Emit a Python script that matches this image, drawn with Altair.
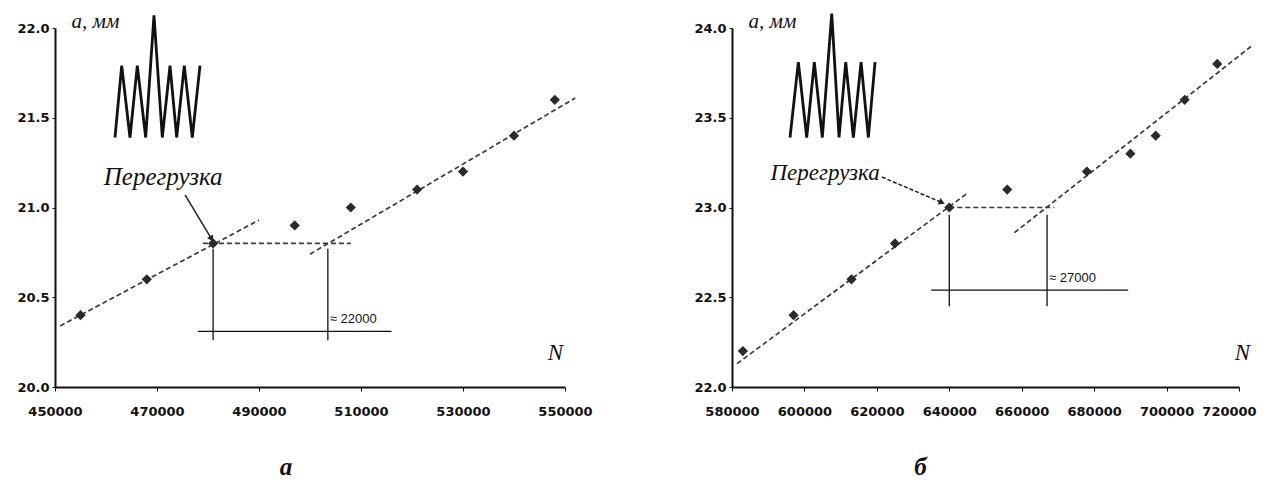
import altair as alt
import pandas as pd

# ---------------- panel "а" ----------------
a_pts_n = [455000, 468000, 481000, 497000, 508000, 521000, 530000, 540000, 548000]
a_pts_a = [20.4, 20.6, 20.8, 20.9, 21.0, 21.1, 21.2, 21.4, 21.6]
a_fit_n = [451000, 490000, 479000, 508000, 500000, 552000]
a_fit_a = [20.34, 20.93, 20.8, 20.8, 20.74, 21.61]
a_fit_seg = [0, 0, 1, 1, 2, 2]
a_dim_n = [481000, 481000, 503500, 503500, 478000, 516000]
a_dim_a = [20.77, 20.26, 20.77, 20.26, 20.31, 20.31]
a_dim_seg = [0, 0, 1, 1, 2, 2]
a_cyc_n = [461765, 463080, 464700, 466140, 467780, 469410, 471040, 472550, 473860, 475350, 476920, 478430]
a_cyc_a = [21.39, 21.79, 21.39, 21.79, 21.39, 22.07, 21.39, 21.79, 21.39, 21.79, 21.39, 21.79]
a_arrow_n = [475500, 480600]
a_arrow_a = [21.07, 20.83]
a_label_n, a_label_a = 471200, 21.17
a_delta_n, a_delta_a = 503500, 20.38
a_delta_text = "≈ 22000"
a_x_ticks = [450000, 470000, 490000, 510000, 530000, 550000]
a_y_ticks = [20.0, 20.5, 21.0, 21.5, 22.0]

# ---------------- panel "б" ----------------
b_pts_n = [583000, 597000, 613000, 625000, 640000, 656000, 678000, 690000, 697000, 705000, 714000]
b_pts_a = [22.2, 22.4, 22.6, 22.8, 23.0, 23.1, 23.2, 23.3, 23.4, 23.6, 23.8]
b_fit_n = [581400, 645000, 640000, 669000, 658000, 723500]
b_fit_a = [22.13, 23.08, 23.0, 23.0, 22.86, 23.90]
b_fit_seg = [0, 0, 1, 1, 2, 2]
b_dim_n = [640000, 640000, 667000, 667000, 635000, 689400]
b_dim_a = [22.96, 22.45, 22.96, 22.45, 22.54, 22.54]
b_dim_seg = [0, 0, 1, 1, 2, 2]
b_cyc_n = [596020, 598320, 600630, 602730, 604940, 607540, 609560, 611410, 613510, 615640, 617650, 619500]
b_cyc_a = [23.39, 23.81, 23.39, 23.81, 23.39, 24.08, 23.39, 23.81, 23.39, 23.81, 23.39, 23.81]
b_arrow_n = [621400, 637700]
b_arrow_a = [23.17, 23.03]
b_label_n, b_label_a = 605700, 23.19
b_delta_n, b_delta_a = 667000, 22.61
b_delta_text = "≈ 27000"
b_x_ticks = [580000, 600000, 620000, 640000, 660000, 680000, 700000, 720000]
b_y_ticks = [22.0, 22.5, 23.0, 23.5, 24.0]


def panel(pts_n, pts_a, fit_n, fit_a, fit_seg, dim_n, dim_a, dim_seg,
          cyc_n, cyc_a, arrow_n, arrow_a, arrow_angle, arrow_dash,
          label_n, label_a, label_size, delta_n, delta_a, delta_text,
          x_ticks, y_ticks, width, height, n_title_x, sub_title, sub_dx):
    xdom = [x_ticks[0], x_ticks[-1]]
    ydom = [y_ticks[0], y_ticks[-1]]
    xs = alt.Scale(domain=xdom, nice=False, zero=False)
    ys = alt.Scale(domain=ydom, nice=False, zero=False)

    last_tick = x_ticks[-1]
    x_axis = alt.Axis(values=x_ticks, format="d", grid=False, labelFlush=False,
                      labelFont="DejaVu Sans", labelFontWeight="bold", labelFontSize=13,
                      labelColor="#111", labelPadding=14, tickColor="#111", tickSize=4,
                      labelOffset={"condition": {"test": f"datum.value >= {last_tick} && {last_tick} > 600000",
                                                 "value": -10},
                                   "value": 0},
                      domainColor="#111", domainWidth=2,
                      title="N", titleFont="Liberation Serif", titleFontStyle="italic",
                      titleFontWeight="normal", titleFontSize=23, titleColor="#111",
                      titleX=n_title_x, titleY=-28, titleAlign="center",
                      titleBaseline="alphabetic")
    y_axis = alt.Axis(values=y_ticks, format=".1f", grid=False,
                      labelFont="DejaVu Sans", labelFontWeight="bold", labelFontSize=13,
                      labelColor="#111", labelPadding=3, tickColor="#111", tickSize=3,
                      domainColor="#111", domainWidth=2,
                      title="а, мм", titleFont="Liberation Serif", titleFontStyle="italic",
                      titleFontWeight="normal", titleFontSize=21, titleColor="#111",
                      titleAngle=0, titleX=16, titleY=-1, titleAlign="left",
                      titleBaseline="alphabetic", minExtent=47, maxExtent=47)

    pts = pd.DataFrame({"N": pts_n, "a": pts_a})
    fit = pd.DataFrame({"N": fit_n, "a": fit_a, "seg": fit_seg, "i": list(range(len(fit_n)))})
    dim = pd.DataFrame({"N": dim_n, "a": dim_a, "seg": dim_seg, "i": list(range(len(dim_n)))})
    cyc = pd.DataFrame({"N": cyc_n, "a": cyc_a, "i": list(range(len(cyc_n)))})
    arr = pd.DataFrame({"N": arrow_n, "a": arrow_a, "i": [0, 1]})
    head = arr.iloc[[1]]
    lab = pd.DataFrame({"N": [label_n], "a": [label_a], "t": ["Перегрузка"]})
    dlt = pd.DataFrame({"N": [delta_n], "a": [delta_a], "t": [delta_text]})

    base_x = alt.X("N:Q", scale=xs, axis=x_axis)
    base_y = alt.Y("a:Q", scale=ys, axis=y_axis)

    fit_l = alt.Chart(fit).mark_line(color="#3a3a3a", strokeWidth=1.7, strokeDash=[5, 3],
                                     clip=False).encode(
        x=base_x, y=base_y, detail="seg:N", order="i:Q")
    dim_l = alt.Chart(dim).mark_line(color="#111", strokeWidth=1.3, clip=False).encode(
        x="N:Q", y="a:Q", detail="seg:N", order="i:Q")
    cyc_l = alt.Chart(cyc).mark_line(color="#111", strokeWidth=2.8, clip=False,
                                     strokeJoin="miter", strokeMiterLimit=2).encode(
        x="N:Q", y="a:Q", order="i:Q")
    arr_kw = dict(color="#222", strokeWidth=1.5, clip=False)
    if arrow_dash:
        arr_kw["strokeDash"] = [4, 2]
    arr_l = alt.Chart(arr).mark_line(**arr_kw).encode(x="N:Q", y="a:Q", order="i:Q")
    head_p = alt.Chart(head).mark_point(shape="triangle", filled=True, color="#222",
                                        size=50, angle=arrow_angle, opacity=1,
                                        clip=False).encode(x="N:Q", y="a:Q")
    pts_p = alt.Chart(pts).mark_point(shape="diamond", filled=True, color="#2a2a2a",
                                      size=105, opacity=1).encode(x="N:Q", y="a:Q")
    lab_t = alt.Chart(lab).mark_text(font="Liberation Serif", fontStyle="italic",
                                     fontSize=label_size, color="#111",
                                     align="center", baseline="middle").encode(
        x="N:Q", y="a:Q", text="t:N")
    dlt_t = alt.Chart(dlt).mark_text(font="Liberation Sans", fontSize=13, color="#111",
                                     align="left", baseline="middle", dx=2).encode(
        x="N:Q", y="a:Q", text="t:N")

    return alt.layer(fit_l, dim_l, cyc_l, arr_l, head_p, pts_p, lab_t, dlt_t).properties(
        width=width, height=height,
        title=alt.TitleParams(sub_title, orient="bottom", font="Liberation Serif",
                              fontStyle="italic", fontWeight="bold", fontSize=25,
                              color="#111", dx=sub_dx, offset=37))


left = panel(a_pts_n, a_pts_a, a_fit_n, a_fit_a, a_fit_seg, a_dim_n, a_dim_a, a_dim_seg,
             a_cyc_n, a_cyc_a, a_arrow_n, a_arrow_a, 149, False,
             a_label_n, a_label_a, 25, a_delta_n, a_delta_a, a_delta_text,
             a_x_ticks, a_y_ticks, 510, 359, 500, "а", -24)
right = panel(b_pts_n, b_pts_a, b_fit_n, b_fit_a, b_fit_seg, b_dim_n, b_dim_a, b_dim_seg,
              b_cyc_n, b_cyc_a, b_arrow_n, b_arrow_a, 113, True,
              b_label_n, b_label_a, 23, b_delta_n, b_delta_a, b_delta_text,
              b_x_ticks, b_y_ticks, 507, 359, 510, "б", -65)

chart = alt.hconcat(left, right, spacing=92).properties(
    padding={"left": 0, "top": 2, "right": 0, "bottom": 0},
    background="white"
).configure_view(stroke="transparent", strokeWidth=0)

chart.save("out.html", embed_options={"renderer": "svg", "actions": False})
